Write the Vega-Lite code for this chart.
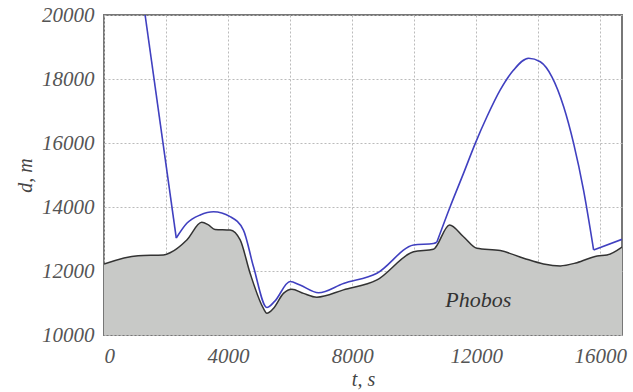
{
  "$schema": "https://vega.github.io/schema/vega-lite/v6.json",
  "width": 518,
  "height": 320,
  "autosize": {"type": "none"},
  "padding": {"left": 104, "top": 15, "right": 11, "bottom": 57},
  "config": {
    "view": {"stroke": "#777", "strokeWidth": 2},
    "axis": {
      "labelFont": "Liberation Serif", "labelFontStyle": "italic", "labelFontSize": 21, "labelColor": "#555",
      "titleFont": "Liberation Serif", "titleFontStyle": "italic", "titleFontSize": 20, "titleFontWeight": "normal", "titleColor": "#444",
      "gridColor": "#bbb", "gridDash": [2, 2], "gridWidth": 1, "domain": false, "ticks": false
    }
  },
  "datasets": {
    "phobos": [
      {"t": 0, "d": 12220}, {"t": 1100, "d": 12480}, {"t": 1915, "d": 12500}, {"t": 2130, "d": 12570},
      {"t": 2670, "d": 12970}, {"t": 3150, "d": 13520}, {"t": 3365, "d": 13440}, {"t": 3580, "d": 13300},
      {"t": 4065, "d": 13280}, {"t": 4390, "d": 12970}, {"t": 4710, "d": 11930}, {"t": 5140, "d": 10830},
      {"t": 5250, "d": 10680}, {"t": 5460, "d": 10830}, {"t": 5785, "d": 11300}, {"t": 6055, "d": 11430},
      {"t": 6430, "d": 11300}, {"t": 6860, "d": 11180}, {"t": 7720, "d": 11410}, {"t": 8800, "d": 11720},
      {"t": 9980, "d": 12600}, {"t": 10620, "d": 12680}, {"t": 11140, "d": 13440},
      {"t": 11590, "d": 13070}, {"t": 12020, "d": 12710}, {"t": 12775, "d": 12640}, {"t": 13530, "d": 12400},
      {"t": 14170, "d": 12220}, {"t": 14710, "d": 12160}, {"t": 15250, "d": 12260}, {"t": 15900, "d": 12470},
      {"t": 16215, "d": 12500}, {"t": 16700, "d": 12750}
    ],
    "traj": [
      {"seg": "a", "t": 1325, "d": 20000}, {"seg": "a", "t": 2330, "d": 13030},
      {"seg": "b", "t": 2330, "d": 13030}, {"seg": "b", "t": 2670, "d": 13490},
      {"seg": "b", "t": 3100, "d": 13750}, {"seg": "b", "t": 3530, "d": 13850}, {"seg": "b", "t": 4065, "d": 13700}, {"seg": "b", "t": 4495, "d": 13280},
      {"seg": "b", "t": 4820, "d": 12130}, {"seg": "b", "t": 5250, "d": 10860}, {"seg": "b", "t": 5500, "d": 11050}, {"seg": "b", "t": 6000, "d": 11670},
      {"seg": "b", "t": 6320, "d": 11560}, {"seg": "b", "t": 6915, "d": 11320}, {"seg": "b", "t": 7720, "d": 11610}, {"seg": "b", "t": 8800, "d": 11930},
      {"seg": "b", "t": 9980, "d": 12810}, {"seg": "b", "t": 10620, "d": 12860}, {"seg": "b", "t": 10730, "d": 12900},
      {"seg": "c", "t": 10730, "d": 12900}, {"seg": "c", "t": 11160, "d": 14010}, {"seg": "c", "t": 11590, "d": 15050},
      {"seg": "c", "t": 11970, "d": 15990}, {"seg": "c", "t": 12345, "d": 16820}, {"seg": "c", "t": 12775, "d": 17660},
      {"seg": "c", "t": 13205, "d": 18280}, {"seg": "c", "t": 13690, "d": 18650}, {"seg": "c", "t": 14065, "d": 18540},
      {"seg": "c", "t": 14440, "d": 18070}, {"seg": "c", "t": 14820, "d": 17135}, {"seg": "c", "t": 15140, "d": 15990},
      {"seg": "c", "t": 15460, "d": 14530}, {"seg": "c", "t": 15785, "d": 12660},
      {"seg": "d", "t": 15785, "d": 12660}, {"seg": "d", "t": 16700, "d": 12990}
    ],
    "label": [{"t": 12065, "d": 11094, "text": "Phobos"}]
  },
  "layer": [
    {
      "data": {"name": "phobos"},
      "mark": {"type": "area", "color": "#c8c9c7", "clip": true, "interpolate": "monotone"},
      "encoding": {
        "x": {"field": "t", "type": "quantitative", "scale": {"domain": [0, 16700], "nice": false},
          "axis": {"values": [0, 2000, 4000, 6000, 8000, 10000, 12000, 14000, 16000], "labelExpr": "datum.value % 4000 === 0 ? format(datum.value, 'd') : ''", "title": "t, s", "labelPadding": 10, "titlePadding": 3}},
        "y": {"field": "d", "type": "quantitative", "scale": {"domain": [10000, 20000], "nice": false, "zero": false},
          "axis": {"values": [10000, 12000, 14000, 16000, 18000, 20000], "format": "d", "title": "d, m", "labelPadding": 10, "titlePadding": 6}},
        "y2": {"datum": 10000}
      }
    },
    {
      "data": {"name": "phobos"},
      "mark": {"type": "line", "color": "#333", "strokeWidth": 1.5, "clip": true, "interpolate": "monotone"},
      "encoding": {"x": {"field": "t", "type": "quantitative"}, "y": {"field": "d", "type": "quantitative"}}
    },
    {
      "data": {"name": "traj"},
      "transform": [{"filter": "datum.seg === 'a' || datum.seg === 'd'"}],
      "mark": {"type": "line", "color": "#4040c0", "strokeWidth": 1.6, "clip": true},
      "encoding": {"x": {"field": "t", "type": "quantitative"}, "y": {"field": "d", "type": "quantitative"}, "detail": {"field": "seg"}}
    },
    {
      "data": {"name": "traj"},
      "transform": [{"filter": "datum.seg === 'b' || datum.seg === 'c'"}],
      "mark": {"type": "line", "color": "#4040c0", "strokeWidth": 1.6, "clip": true, "interpolate": "monotone"},
      "encoding": {"x": {"field": "t", "type": "quantitative"}, "y": {"field": "d", "type": "quantitative"}, "detail": {"field": "seg"}}
    },
    {
      "data": {"name": "label"},
      "mark": {"type": "text", "font": "Liberation Serif", "fontStyle": "italic", "fontSize": 22, "color": "#333"},
      "encoding": {"x": {"field": "t", "type": "quantitative"}, "y": {"field": "d", "type": "quantitative"}, "text": {"field": "text"}}
    }
  ]
}
